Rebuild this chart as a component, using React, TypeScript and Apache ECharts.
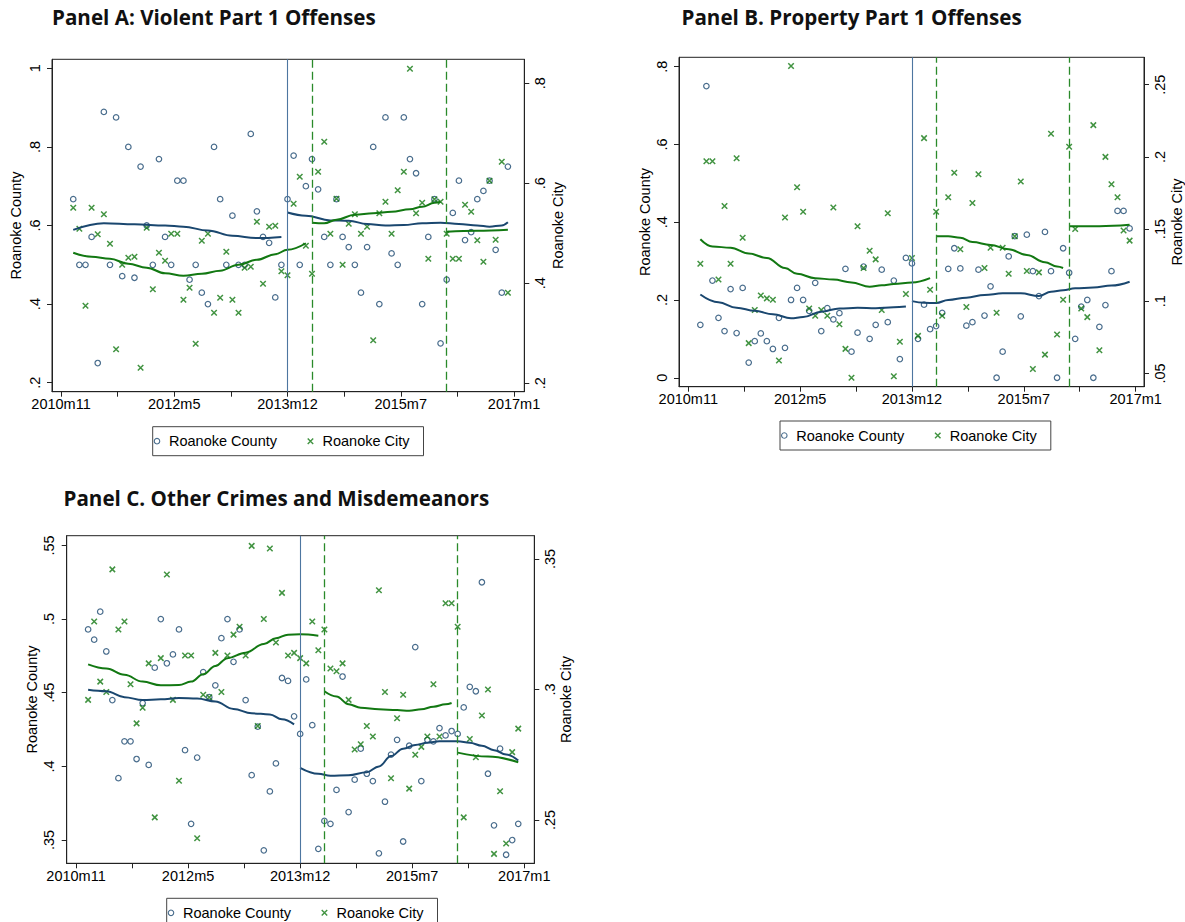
import React, { useEffect, useRef } from "react";
import * as echarts from "echarts";

// ---------- data ----------
// month index: 0 = 2010m11
const MONTHS = [2,3,4,5,6,7,8,9,10,11,12,13,14,15,16,17,18,19,20,21,22,23,24,25,26,27,28,29,30,31,32,33,34,35,36,37,38,39,40,41,42,43,44,45,46,47,48,49,50,51,52,53,54,55,56,57,58,59,60,61,62,63,64,65,66,67,68,69,70,71,72,73];
const X_LABEL_POS = [0, 18.5, 37, 55.5, 74];
const X_LABELS = ["2010m11", "2012m5", "2013m12", "2015m7", "2017m1"];
const X_MINOR_TICKS = [9.25, 27.75, 46.25, 64.75];
const BREAK_SOLID = [37];
const BREAK_DASHED = [41, 63];
const LEGEND_NAMES = ["Roanoke County", "Roanoke City"];

// Panel A
const countyA = [.667,.5,.5,.571,.25,.889,.5,.875,.471,.8,.467,.75,
  .6,.5,.769,.571,.5,.714,.714,.462,.5,.429,.4,.8,
  .667,.5,.625,.5,.5,.833,.636,.571,.556,.417,.5,.667,
  .778,.5,.7,.769,.692,.571,.5,.667,.571,.545,.5,.429,
  .545,.8,.4,.875,.529,.5,.875,.769,.733,.4,.571,.667,
  .3,.462,.632,.714,.563,.583,.667,.688,.714,.538,.429,.75];
const cityA = [.551,.509,.355,.551,.498,.538,.479,.268,.437,.451,.453,.231,
  .511,.388,.461,.445,.499,.499,.367,.391,.279,.485,.499,.341,
  .371,.463,.367,.341,.431,.433,.523,.399,.513,.515,.424,.416,
  .559,.613,.475,.419,.623,.683,.499,.569,.437,.519,.538,.499,
  .513,.286,.540,.563,.499,.586,.623,.829,.540,.561,.449,.568,
  .563,.499,.449,.449,.557,.543,.486,.443,.605,.487,.643,.381];
const fitCountyA1 = [[2,.589],[7,.606],[12,.603],[17,.600],[20,.597],[24,.587],[28,.574],[32,.568],[36,.571]];
const fitCountyA2 = [[37,.633],[40,.625],[44,.613],[47,.612],[50,.604],[53,.600],[56,.601],[59,.606],[62,.607],[65,.604],[68,.600],[70,.597],[72,.600],[73,.608]];
const fitCityA1 = [[2,.461],[5,.453],[8,.449],[11,.439],[14,.431],[17,.42],[20,.415],[23,.419],[26,.425],[29,.437],[32,.447],[35,.458],[37,.467],[40,.48]];
const fitCityA2 = [[41,.521],[43,.52],[45,.527],[48,.537],[51,.54],[54,.543],[57,.548],[59,.553],[61,.561],[62,.563]];
const fitCityA3 = [[63,.503],[68,.505],[73,.507]];

// Panel B
const countyB = [.136,.75,.25,.154,.12,.228,.115,.231,.039,.094,.114,.094,
  .074,.154,.077,.2,.231,.2,.172,.244,.12,.179,.15,.166,
  .28,.067,.116,.286,.1,.136,.278,.143,.25,.048,.308,.294,
  .1,.188,.125,.133,.167,.28,.333,.281,.134,.143,.278,.16,
  .235,0,.067,.312,.364,.158,.368,.274,.21,.375,.274,0,
  .333,.27,.1,.183,.2,0,.131,.187,.274,.429,.429,.384];
const cityB = [.126,.197,.197,.115,.166,.126,.199,.144,.071,.094,.104,.102,
  .101,.059,.158,.263,.179,.162,.095,.09,.094,.09,.165,.084,
  .067,.047,.152,.123,.135,.129,.094,.161,.048,.072,.105,.13,
  .076,.213,.108,.162,.09,.172,.189,.136,.096,.168,.188,.123,
  .137,.092,.137,.119,.145,.183,.121,.053,.12,.063,.216,.077,
  .101,.207,.15,.095,.089,.222,.066,.2,.181,.172,.149,.142];
const fitCountyB1 = [[2,.214],[5,.194],[8,.180],[11,.172],[14,.163],[17,.153],[19,.156],[22,.170],[25,.178],[28,.180],[31,.179],[34,.181],[36,.183]];
const fitCountyB2 = [[37,.197],[39,.193],[41,.192],[43,.200],[46,.206],[49,.213],[52,.217],[55,.217],[58,.210],[60,.221],[62,.225],[64,.230],[67,.232],[70,.237],[73,.247]];
const fitCityB1 = [[2,.143],[4,.138],[7,.137],[10,.133],[13,.130],[16,.123],[18,.119],[21,.116],[24,.115],[27,.113],[30,.110],[32,.111],[34,.112],[37,.113],[40,.116]];
const fitCityB2 = [[41,.145],[43,.145],[45,.144],[47,.141],[50,.139],[53,.136],[56,.132],[59,.127],[61,.124],[62,.123]];
const fitCityB3 = [[63,.152],[68,.152],[73,.153]];

// Panel C
const countyC = [.493,.486,.505,.478,.445,.392,.417,.417,.405,.443,.401,.467,
  .5,.47,.476,.493,.411,.361,.406,.464,.447,.455,.487,.5,
  .471,.493,.445,.394,.427,.343,.383,.402,.46,.458,.434,.422,
  .459,.428,.344,.363,.361,.384,.461,.369,.391,.412,.395,.39,
  .341,.376,.408,.418,.349,.414,.481,.39,.418,.417,.426,.421,
  .424,.422,.44,.454,.451,.525,.395,.36,.412,.34,.35,.361];
const cityC = [.296,.326,.303,.299,.346,.323,.326,.302,.287,.293,.31,.251,
  .312,.344,.296,.265,.313,.313,.243,.298,.297,.314,.299,.313,
  .321,.324,.313,.355,.286,.327,.354,.318,.337,.313,.314,.312,
  .31,.326,.315,.323,.308,.307,.31,.296,.277,.279,.286,.282,
  .338,.299,.266,.289,.298,.262,.275,.278,.282,.302,.282,.333,
  .333,.324,.251,.281,.274,.29,.3,.237,.261,.241,.276,.285];
const fitCountyC1 = [[2,.452],[5,.451],[8,.447],[11,.445],[14,.4455],[17,.4464],[20,.446],[23,.444],[26,.439],[29,.436],[32,.4353],[34,.432],[36,.4285]];
const fitCountyC2 = [[37,.399],[40,.395],[42,.3937],[45,.394],[48,.396],[50,.400],[52,.407],[54,.412],[56,.4145],[58,.416],[60,.417],[63,.417],[65,.416],[67,.414],[69,.411],[71,.408],[73,.404]];
const fitCityC1 = [[2,.3096],[5,.308],[8,.3056],[11,.303],[14,.3016],[17,.3017],[19,.303],[21,.3058],[23,.309],[25,.312],[28,.3141],[31,.3174],[33,.3196],[35,.321],[37,.3211],[40,.3206]];
const fitCityC2 = [[41,.2993],[43,.2973],[45,.2943],[47,.293],[50,.2924],[53,.2921],[55,.2918],[57,.2924],[59,.2934],[61,.2943],[62,.2948]];
const fitCityC3 = [[63,.2758],[68,.2743],[73,.2721]];

// ---------- styling / layout ----------
const BLUE = "#1a476f";
const GREEN = "#127812";
const DASH_GREEN = "#2a8a2a";
const SOLID_LINE = "#4d76a0";
const AXIS_C = "#222";
const FONT = "Liberation Sans";
const TITLE_FONT = "Open Sans";
const X_SYMBOL = "path://M0,0L10,10M10,0L0,10";

const panels = [
  {
    title: "Panel A: Violent Part 1 Offenses", tLeft: 52, tTop: 6.5,
    grid: { left: 52, top: 59.3, width: 472.3, height: 332.4 },
    x: [-1.47, 75.68],
    yl: [0.177, 1.023], ylTicks: [0.2, 0.4, 0.6, 0.8, 1],
    yr: [0.183, 0.848], yrTicks: [0.2, 0.4, 0.6, 0.8],
    county: countyA, city: cityA,
    countyFits: [fitCountyA1, fitCountyA2], cityFits: [fitCityA1, fitCityA2, fitCityA3],
    legend: { left: 152.7, top: 426.7 },
    lGap: 29, rGap: 26,
  },
  {
    title: "Panel B. Property Part 1 Offenses", tLeft: 681.5, tTop: 6.5,
    grid: { left: 679, top: 57.3, width: 468.7, height: 329.4 },
    x: [-1.53, 75.38],
    yl: [-0.023, 0.824], ylTicks: [0, 0.2, 0.4, 0.6, 0.8],
    yr: [0.0408, 0.269], yrTicks: [0.05, 0.1, 0.15, 0.2, 0.25],
    county: countyB, city: cityB,
    countyFits: [fitCountyB1, fitCountyB2], cityFits: [fitCityB1, fitCityB2, fitCityB3],
    legend: { left: 780, top: 421 },
    lGap: 27, rGap: 25,
  },
  {
    title: "Panel C. Other Crimes and Misdemeanors", tLeft: 63.5, tTop: 487,
    grid: { left: 66.7, top: 535.7, width: 467.6, height: 327.6 },
    x: [-1.535, 75.65],
    yl: [0.3342, 0.5566], ylTicks: [0.35, 0.4, 0.45, 0.5, 0.55],
    yr: [0.2334, 0.3589], yrTicks: [0.25, 0.3, 0.35],
    county: countyC, city: cityC,
    countyFits: [fitCountyC1, fitCountyC2], cityFits: [fitCityC1, fitCityC2, fitCityC3],
    legend: { left: 166.7, top: 898.3 },
    lGap: 27, rGap: 24,
  },
];

const fmtY = (v: number) => {
  const s = String(Math.round(v * 1000) / 1000);
  return s.replace(/^0\./, ".").replace(/^-0\./, "-.");
};
const fmtX = (v: number) => {
  const i = X_LABEL_POS.findIndex((p) => Math.abs(p - v) < 1e-6);
  return i >= 0 ? X_LABELS[i] : "";
};

function buildOption() {
  const title: any[] = [];
  const grid: any[] = [];
  const xAxis: any[] = [];
  const yAxis: any[] = [];
  const legend: any[] = [];
  const series: any[] = [];

  panels.forEach((p, i) => {
    title.push({
      text: p.title, left: p.tLeft, top: p.tTop, padding: 0,
      textStyle: { fontFamily: TITLE_FONT, fontWeight: "bold", fontSize: 20.6, color: "#111" },
    });
    grid.push({ ...p.grid, show: true, borderColor: AXIS_C, borderWidth: 1, backgroundColor: "transparent" });
    xAxis.push({
      type: "value", gridIndex: i, min: p.x[0], max: p.x[1],
      axisLine: { show: true, onZero: false, lineStyle: { color: AXIS_C, width: 1 } },
      axisTick: { show: true, length: 5, lineStyle: { color: AXIS_C }, customValues: [...X_LABEL_POS, ...X_MINOR_TICKS] },
      axisLabel: { customValues: X_LABEL_POS, formatter: fmtX, fontSize: 14.5, fontFamily: FONT, color: "#000", margin: 5 },
      splitLine: { show: false },
    });
    const yCommon = (side: "left" | "right", range: number[], ticks: number[], name: string, gap: number) => ({
      type: "value", gridIndex: i, position: side, min: range[0], max: range[1],
      axisLine: { show: true, onZero: false, lineStyle: { color: AXIS_C, width: 1 } },
      axisTick: { show: true, length: 5, lineStyle: { color: AXIS_C }, customValues: ticks },
      axisLabel: { customValues: ticks, formatter: fmtY, rotate: 90, fontSize: 14.5, fontFamily: FONT, color: "#000", margin: side === "left" ? 10 : 8 },
      splitLine: { show: false },
      name, nameLocation: "middle", nameGap: gap, nameRotate: 90,
      nameTextStyle: { fontSize: 14.5, fontFamily: FONT, color: "#000" },
    });
    yAxis.push(yCommon("left", p.yl, p.ylTicks, "Roanoke County", p.lGap));
    yAxis.push(yCommon("right", p.yr, p.yrTicks, "Roanoke City", p.rGap));

    legend.push({
      left: p.legend.left, top: p.legend.top, orient: "horizontal",
      selectedMode: false,
      data: [
        { name: LEGEND_NAMES[0], icon: "circle", itemStyle: { color: "rgba(0,0,0,0)", borderColor: BLUE, borderWidth: 1.1 } },
        { name: LEGEND_NAMES[1], icon: X_SYMBOL, itemStyle: { color: "rgba(0,0,0,0)", borderColor: GREEN, borderWidth: 1.4 } },
      ],
      itemWidth: 14, itemHeight: 5.5, itemGap: 30,
      borderColor: "#444", borderWidth: 1, padding: [7, 14, 7, 1],
      textStyle: { fontSize: 14.5, fontFamily: FONT, color: "#000" },
    });

    const markLineData = [
      ...BREAK_SOLID.map((m) => ({ xAxis: m, lineStyle: { color: SOLID_LINE, width: 1.1, type: "solid" } })),
      ...BREAK_DASHED.map((m) => ({ xAxis: m, lineStyle: { color: DASH_GREEN, width: 1.3, type: [8, 4] } })),
    ];

    series.push({
      type: "scatter", name: LEGEND_NAMES[0], xAxisIndex: i, yAxisIndex: 2 * i,
      data: MONTHS.map((m, k) => [m, p.county[k]]),
      symbol: "circle", symbolSize: 5.5,
      itemStyle: { color: "rgba(0,0,0,0)", borderColor: BLUE, borderWidth: 1.2 },
      silent: true, z: 2,
      markLine: { silent: true, symbol: ["none", "none"], label: { show: false }, data: markLineData, emphasis: { disabled: true } },
    });
    series.push({
      type: "scatter", name: LEGEND_NAMES[1], xAxisIndex: i, yAxisIndex: 2 * i + 1,
      data: MONTHS.map((m, k) => [m, p.city[k]]),
      symbol: X_SYMBOL, symbolSize: 5.5,
      itemStyle: { color: "rgba(0,0,0,0)", borderColor: GREEN, borderWidth: 1.5 },
      silent: true, z: 2,
    });
    p.countyFits.forEach((seg, j) => {
      series.push({
        type: "line", name: `fitCounty${i}${j}`, xAxisIndex: i, yAxisIndex: 2 * i,
        data: seg, smooth: 0.4, smoothMonotone: "x", symbol: "none", silent: true, z: 3,
        lineStyle: { color: BLUE, width: 2 },
      });
    });
    p.cityFits.forEach((seg, j) => {
      series.push({
        type: "line", name: `fitCity${i}${j}`, xAxisIndex: i, yAxisIndex: 2 * i + 1,
        data: seg, smooth: 0.4, smoothMonotone: "x", symbol: "none", silent: true, z: 3,
        lineStyle: { color: GREEN, width: 2 },
      });
    });
  });

  return { animation: false, backgroundColor: "#fff", title, grid, xAxis, yAxis, legend, series };
}

export default function App() {
  const ref = useRef<HTMLDivElement>(null);
  useEffect(() => {
    if (!ref.current) return;
    const chart = echarts.init(ref.current, undefined, { renderer: "svg" });
    chart.setOption(buildOption() as any);
    return () => chart.dispose();
  }, []);
  return (
    <div
      ref={ref}
      style={{ position: "fixed", left: 0, top: 0, width: 1185, height: 922, background: "#fff" }}
    />
  );
}
